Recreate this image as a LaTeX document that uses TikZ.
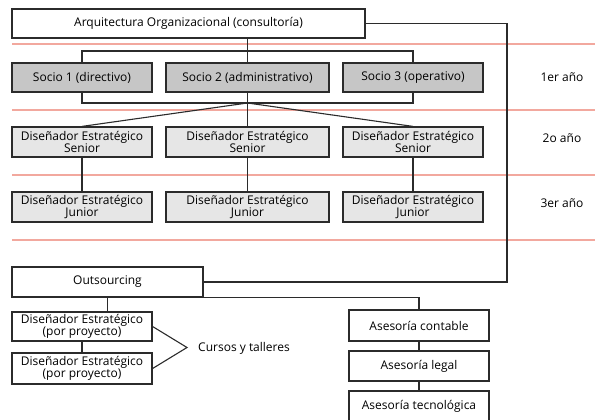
\documentclass[tikz,border=0pt]{standalone}
\usepackage{fontspec}
\setmainfont{Open Sans}
\definecolor{ln}{HTML}{2B2B2B}
\definecolor{redl}{HTML}{F2A89E}
\definecolor{gdark}{HTML}{C6C6C6}
\definecolor{glight}{HTML}{E6E6E6}
\tikzset{
  box/.style={draw=ln, line width=1.2pt, inner sep=0pt, align=center, font=\fontsize{12}{12.5}\selectfont, text=black},
  conn/.style={draw=ln, line width=1.1pt},
  redline/.style={draw=redl, line width=1.3pt},
  lbl/.style={font=\fontsize{12}{12.5}\selectfont, text=black, inner sep=0pt}
}
\begin{document}
\begin{tikzpicture}[x=1pt,y=-1pt]
\useasboundingbox (0,0) rectangle (595,420);
\clip (0,0) rectangle (595,420);
% red separators
\foreach \yy in {44,110,175,240} \draw[redline] (12,\yy) -- (595,\yy);
% boxes
\node[box, minimum width=353pt, minimum height=29pt] (top) at (188.5,23.5) {Arquitectura Organizacional (consultoría)};
\node[box, fill=gdark, minimum width=140pt, minimum height=29pt] (s1) at (82,77.5) {Socio 1 (directivo)};
\node[box, fill=gdark, minimum width=163pt, minimum height=29pt] (s2) at (247.5,77.5) {Socio 2 (administrativo)};
\node[box, fill=gdark, minimum width=140pt, minimum height=29pt] (s3) at (413,77.5) {Socio 3 (operativo)};
\node[box, fill=glight, minimum width=140pt, minimum height=30pt] (sen1) at (82,142) {Diseñador Estratégico\\Senior};
\node[box, fill=glight, minimum width=163pt, minimum height=30pt] (sen2) at (247.5,142) {Diseñador Estratégico\\Senior};
\node[box, fill=glight, minimum width=140pt, minimum height=30pt] (sen3) at (413,142) {Diseñador Estratégico\\Senior};
\node[box, fill=glight, minimum width=140pt, minimum height=30pt] (jun1) at (82,207) {Diseñador Estratégico\\Junior};
\node[box, fill=glight, minimum width=163pt, minimum height=30pt] (jun2) at (247.5,207) {Diseñador Estratégico\\Junior};
\node[box, fill=glight, minimum width=140pt, minimum height=30pt] (jun3) at (413,207) {Diseñador Estratégico\\Junior};
\node[box, minimum width=191pt, minimum height=30pt] (out) at (107.5,282) {Outsourcing};
\node[box, minimum width=140pt, minimum height=29pt] (de1) at (82,326.5) {Diseñador Estratégico\\(por proyecto)};
\node[box, minimum width=140pt, minimum height=31pt] (de2) at (82,368.5) {Diseñador Estratégico\\(por proyecto)};
\node[box, minimum width=140pt, minimum height=31pt] (ac) at (419,325.5) {Asesoría contable};
\node[box, minimum width=140pt, minimum height=30pt] (al) at (419,366) {Asesoría legal};
\node[box, minimum width=140pt, minimum height=31pt] (at) at (419,406.5) {Asesoría tecnológica};
% year labels
\node[lbl] (y1) at (562,77) {1er año};
\node[lbl] (y2) at (562,138) {2o año};
\node[lbl] (y3) at (562,203) {3er año};
\node[lbl, anchor=west] (cur) at (198,348) {Cursos y talleres};
% connectors
\coordinate (j1) at (247.5,51);
\coordinate (j2) at (247.5,103);
\coordinate (rc) at (507,0);
\coordinate (apex) at (187,347.5);
\draw[conn] (top.south -| s2.north) -- (s2.north);
\draw[conn] (s1.north) |- (j1) -| (s3.north);
\draw[conn] (s1.south) |- (j2) -| (s3.south);
\draw[conn] (s2.south) -- (sen2.north);
\draw[conn] (j2) -- (sen1.north);
\draw[conn] (j2) -- (sen3.north);
\draw[conn] (sen1.south) -- (jun1.north);
\draw[conn] (sen2.south) -- (jun2.north);
\draw[conn] (sen3.south) -- (jun3.north);
\draw[conn] (top.east) -| (rc |- out.east) -- (out.east);
\draw[conn] (out.south) -- (de1.north -| out.south);
\draw[conn] (de1.south) -- (de2.north);
\draw[conn] (out.south east) -| (ac.north);
\draw[conn] (ac.south) -- (al.north);
\draw[conn] (al.south) -- (at.north);
\draw[conn] (de1.east) -- (apex) -- (de2.east);
\end{tikzpicture}
\end{document}
